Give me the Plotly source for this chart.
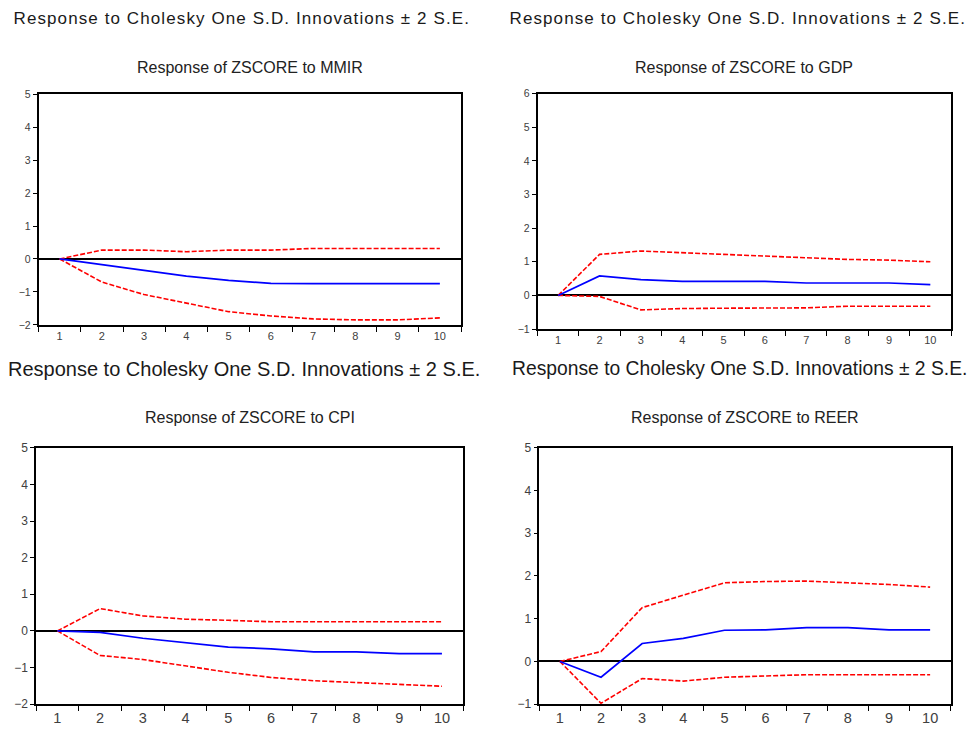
import plotly.graph_objects as go

periods = [1, 2, 3, 4, 5, 6, 7, 8, 9, 10]
period_labels = ["1", "2", "3", "4", "5", "6", "7", "8", "9", "10"]

mmir_resp = [0, -0.17, -0.35, -0.52, -0.65, -0.74, -0.75, -0.75, -0.75, -0.75]
mmir_upper = [0, 0.27, 0.27, 0.22, 0.27, 0.27, 0.32, 0.32, 0.32, 0.32]
mmir_lower = [0, -0.70, -1.08, -1.35, -1.60, -1.73, -1.82, -1.85, -1.85, -1.79]

gdp_resp = [0, 0.58, 0.47, 0.42, 0.42, 0.42, 0.37, 0.37, 0.37, 0.32]
gdp_upper = [0, 1.22, 1.32, 1.28, 1.22, 1.17, 1.12, 1.07, 1.05, 1.00]
gdp_lower = [0, -0.03, -0.43, -0.39, -0.38, -0.38, -0.37, -0.32, -0.32, -0.32]

cpi_resp = [0, -0.04, -0.20, -0.33, -0.44, -0.49, -0.57, -0.57, -0.62, -0.62]
cpi_upper = [0, 0.61, 0.41, 0.32, 0.29, 0.25, 0.25, 0.25, 0.25, 0.25]
cpi_lower = [0, -0.67, -0.78, -0.96, -1.13, -1.27, -1.36, -1.41, -1.46, -1.51]

reer_resp = [0, -0.37, 0.42, 0.54, 0.73, 0.74, 0.79, 0.79, 0.74, 0.74]
reer_upper = [0, 0.23, 1.26, 1.55, 1.84, 1.87, 1.88, 1.84, 1.80, 1.74]
reer_lower = [0, -0.98, -0.40, -0.46, -0.37, -0.34, -0.31, -0.31, -0.31, -0.31]

main_title = "Response to Cholesky One S.D. Innovations \u00b1 2 S.E."
panel_titles = ["Response of ZSCORE to MMIR", "Response of ZSCORE to GDP",
                "Response of ZSCORE to CPI", "Response of ZSCORE to REER"]
y_ranges = [[-2, 5], [-1, 6], [-2, 5], [-1, 5]]

W, H = 975, 736
# plot frames in pixels: (left, right, top, bottom)
frames = [(38.5, 461, 89, 324), (537.5, 951, 88.3, 328.3),
          (36, 463.3, 449.3, 710.7), (539.3, 950.7, 449.3, 710.7)]
ytick_sizes = [10.5, 10.5, 12, 12]
xtick_sizes = [11, 11, 14.5, 14.5]
title_y = [62, 62, 418, 418]

series = [(mmir_resp, mmir_upper, mmir_lower), (gdp_resp, gdp_upper, gdp_lower),
          (cpi_resp, cpi_upper, cpi_lower), (reer_resp, reer_upper, reer_lower)]

fig = go.Figure()
FONT = "Liberation Sans, Arial, sans-serif"
TICKC = "#404040"
boundaries = [p - 0.5 for p in periods] + [periods[-1] + 0.5]

for i, (resp, up, lo) in enumerate(series):
    n = i + 1
    xa = "x" if n == 1 else f"x{n}"
    ya = "y" if n == 1 else f"y{n}"
    for vals in (up, lo):
        fig.add_trace(go.Scatter(x=periods, y=vals, mode="lines", xaxis=xa, yaxis=ya,
                                 line=dict(color="#ff0000", width=1.6, dash="5px,2px"),
                                 showlegend=False, hoverinfo="skip"))
    fig.add_trace(go.Scatter(x=periods, y=resp, mode="lines", xaxis=xa, yaxis=ya,
                             line=dict(color="#0000ff", width=1.7),
                             showlegend=False))
    l, r, t, b = frames[i]
    xkey = "xaxis" if n == 1 else f"xaxis{n}"
    ykey = "yaxis" if n == 1 else f"yaxis{n}"
    fig.layout[xkey] = dict(
        domain=[l / W, r / W], anchor=ya, range=[0.5, 10.5],
        tickvals=periods, ticktext=period_labels, ticks="", showgrid=False,
        zeroline=False, showline=True, mirror=True, linecolor="black", linewidth=1.5,
        tickfont=dict(family=FONT, size=xtick_sizes[i], color=TICKC),
        minor=dict(tickvals=boundaries, ticks="outside", ticklen=5,
                   tickcolor="black", tickwidth=1.2, showgrid=False),
        fixedrange=True)
    fig.layout[ykey] = dict(
        domain=[1 - b / H, 1 - t / H], anchor=xa, range=y_ranges[i], dtick=1,
        ticks="outside", ticklen=4, tickcolor="black", tickwidth=1.2,
        showgrid=False, zeroline=True, zerolinecolor="black", zerolinewidth=1.6,
        showline=True, mirror=True, linecolor="black", linewidth=1.5,
        tickfont=dict(family=FONT, size=ytick_sizes[i], color=TICKC),
        fixedrange=True)
    fig.add_annotation(text=panel_titles[i], xref="paper", yref="paper",
                       x=(l + r) / 2 / W, y=1 - title_y[i] / H,
                       showarrow=False, xanchor="center", yanchor="middle",
                       font=dict(family=FONT, size=16, color="#222222"))

# column titles: top row (letter-spaced, centered), bottom row (left anchored)
for (xc, y) in [(241, 12), (737, 12)]:
    fig.add_annotation(text=main_title, xref="paper", yref="paper",
                       x=xc / W, y=1 - y / H, showarrow=False,
                       xanchor="center", yanchor="middle",
                       font=dict(family=FONT, size=17, color="#1a1a1a"))
for (x, y, size) in [(6, 369, 20), (510, 369, 19.3)]:
    fig.add_annotation(text=main_title, xref="paper", yref="paper",
                       x=x / W, y=1 - y / H, showarrow=False,
                       xanchor="left", yanchor="middle",
                       font=dict(family=FONT, size=size, color="#1a1a1a"))

fig.update_layout(width=W, height=H, margin=dict(l=0, r=0, t=0, b=0),
                  paper_bgcolor="white", plot_bgcolor="white")

post = """
document.body.style.margin='0';
document.body.style.overflow='hidden';
document.querySelectorAll('text.annotation-text').forEach(function(t){
  if (t.textContent.indexOf('Cholesky') >= 0 && parseFloat(t.style.fontSize) === 17) {
    t.style.letterSpacing = '1.1px';
  }
});
"""
fig.write_html("out.html", config={"displayModeBar": False}, post_script=post)
